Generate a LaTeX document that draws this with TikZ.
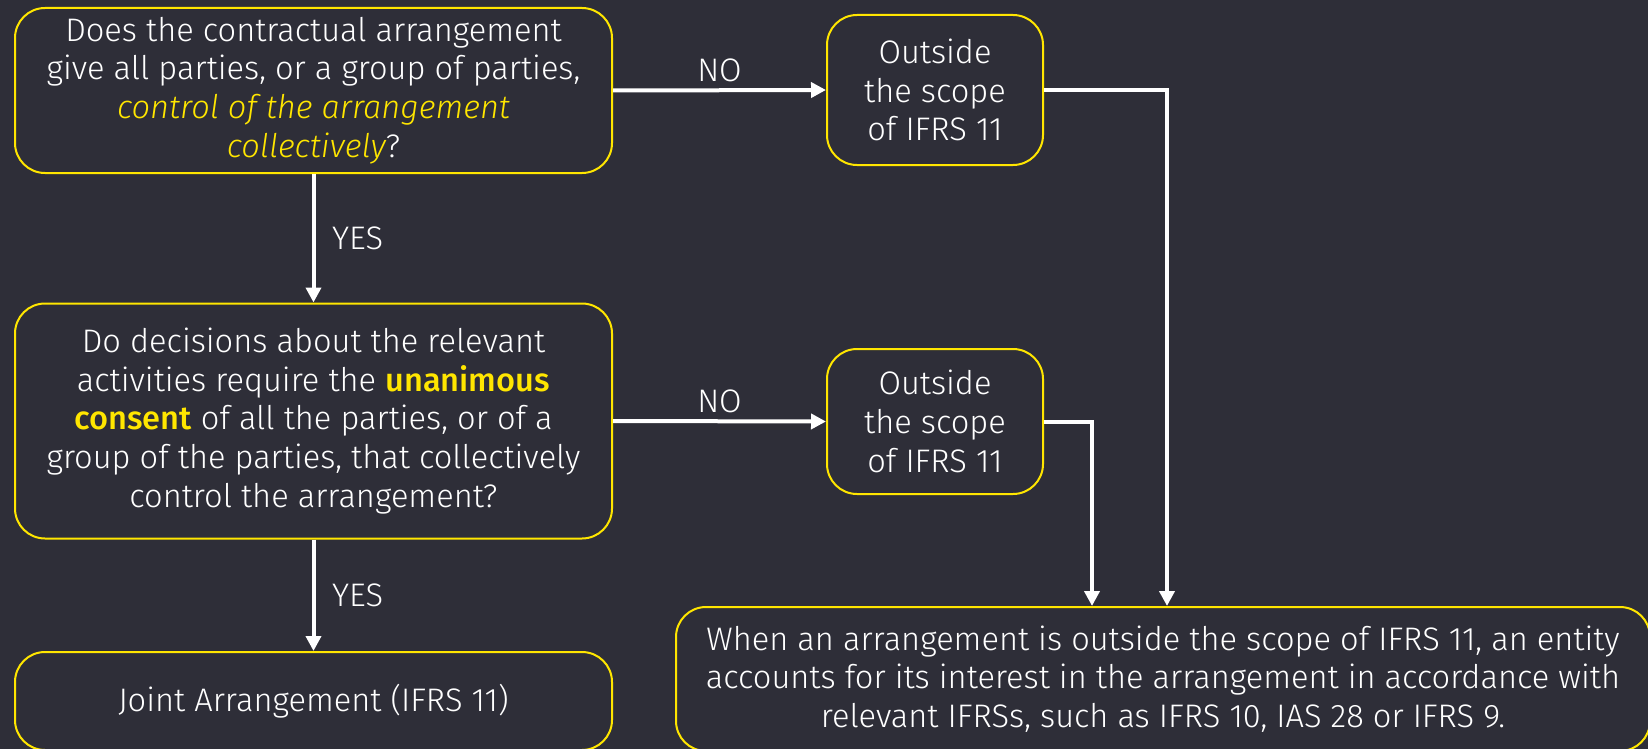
\documentclass[tikz,border=0pt]{standalone}
\usepackage{fontspec}
\setmainfont{Fira Sans}[UprightFont = * Light, ItalicFont = * Light Italic, BoldFont = * Medium]
\usepackage{tikz}
\usetikzlibrary{arrows.meta}
\definecolor{eybg}{HTML}{2E2E38}
\definecolor{eyyellow}{HTML}{FFE600}
\newcommand{\hlit}[1]{\textcolor{eyyellow}{\itshape #1}}
\newcommand{\hlbf}[1]{\textcolor{eyyellow}{\bfseries #1}}
\begin{document}
\begin{tikzpicture}[x=0.5pt, y=-0.5pt]
			\tikzset{box/.style={shape = rectangle, draw = eyyellow, line width = 1pt, rounded corners = 15pt, text = white, align = center, font = \fontsize{16.3}{19.4}\selectfont, inner sep = 0pt}}
			\tikzset{edge/.style={draw = white, line width = 2pt, -{Triangle[length = 7.5pt, width = 7.5pt]}}}
			\tikzset{tag/.style={text = white, font = \fontsize{16.3}{19.4}\selectfont}}
			\fill[eybg] (0, 0) rectangle (1648, 749);
			\useasboundingbox (0, 0) rectangle (1648, 749);
			%boxes
			\node[box, minimum width = 298.5pt, minimum height = 82.5pt] (q1) at (313.5, 90.5) {Does the contractual arrangement\\ give all parties, or a group of parties,\\ \hlit{control of the arrangement}\\ \hlit{collectively}?};
			\node[box, minimum width = 298.5pt, minimum height = 117.5pt] (q2) at (313.5, 421) {Do decisions about the relevant\\ activities require the \hlbf{unanimous}\\ \hlbf{consent} of all the parties, or of a\\ group of the parties, that collectively\\ control the arrangement?};
			\node[box, minimum width = 298.5pt, minimum height = 49pt] (joint) at (313.5, 701) {Joint Arrangement (IFRS 11)};
			\node[box, minimum width = 108pt, minimum height = 75pt] (out1) at (935, 90) {Outside\\ the scope\\ of IFRS 11};
			\node[box, minimum width = 108pt, minimum height = 72.5pt] (out2) at (935, 421.5) {Outside\\ the scope\\ of IFRS 11};
			\node[box, minimum width = 487pt, minimum height = 72pt] (final) at (1163, 679) {When an arrangement is outside the scope of IFRS 11, an entity\\ accounts for its interest in the arrangement in accordance with\\ relevant IFRSs, such as IFRS 10, IAS 28 or IFRS 9.};
			\coordinate (drop1) at (1167, 606);
			\coordinate (drop2) at (1092, 606);
			%edges
			\draw[edge] (q1.east) -- node[tag, above] (no1) {NO} (out1.west);
			\draw[edge] (q1.south) -- node[tag, right = 5pt] (yes1) {YES} (q2.north);
			\draw[edge] (q2.east) -- node[tag, above] (no2) {NO} (out2.west);
			\draw[edge] (q2.south) -- node[tag, right = 5pt] (yes2) {YES} (joint.north);
			\draw[edge] (out1.east) -| (drop1);
			\draw[edge] (out2.east) -| (drop2);
\end{tikzpicture}
\end{document}
